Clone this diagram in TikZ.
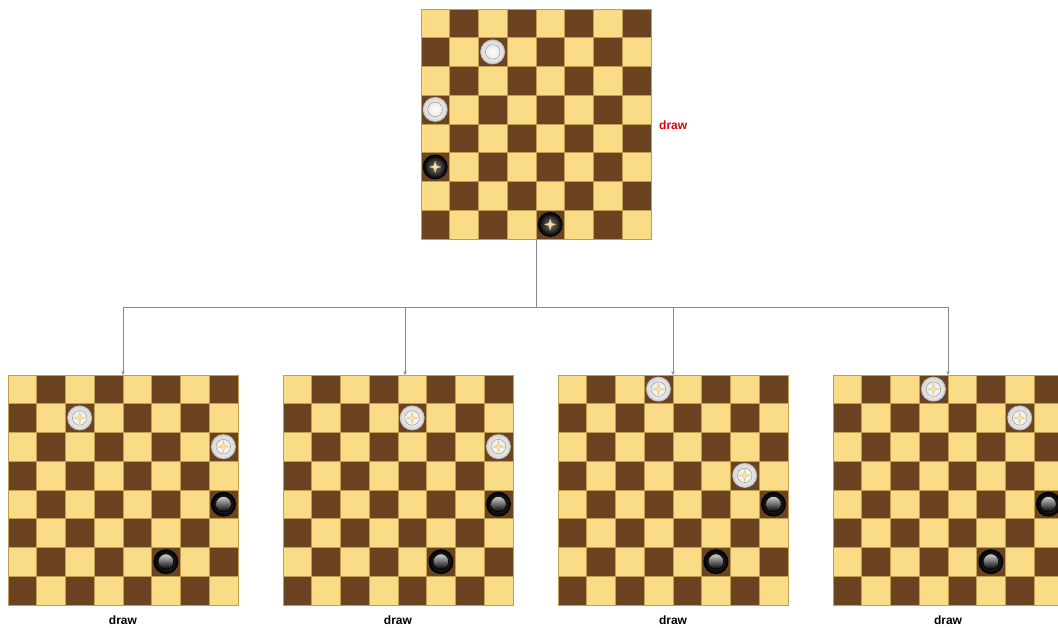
\documentclass[tikz,border=0pt]{standalone}
\usepackage{fontspec}
\setmainfont{Liberation Sans}
\usetikzlibrary{arrows.meta}
\definecolor{lightsq}{HTML}{FADB86}
\definecolor{darksq}{HTML}{6B4321}
\definecolor{sqline}{HTML}{C0A050}
\definecolor{conn}{HTML}{8A8A8A}
\definecolor{redlbl}{HTML}{E0000D}
\definecolor{starfill}{HTML}{F6E3A4}
\definecolor{starline}{HTML}{D9C27A}
\newcommand{\drawcells}[1]{%
  \begin{scope}[shift={(#1.north west)}]
    \foreach \r in {0,...,7}{\foreach \c in {0,...,7}{%
      \pgfmathtruncatemacro\sqpar{mod(\r+\c,2)}%
      \ifnum\sqpar=0
        \filldraw[fill=lightsq,draw=sqline,line width=0.4pt] (\c*28.75,\r*28.75) rectangle ++(28.75,28.75);
      \else
        \filldraw[fill=darksq,draw=sqline,line width=0.4pt] (\c*28.75,\r*28.75) rectangle ++(28.75,28.75);
      \fi}}
  \end{scope}}
% piece at (board, col, row)
\newcommand{\putpiece}[4]{%
  \pic at ([shift={(#3*28.75+14.375,#4*28.75+14.375)}]#2.north west) {#1};}
\tikzset{
  board/.style={rectangle,minimum size=230pt,inner sep=0pt,draw=sqline,line width=0.4pt},
  lbl/.style={font=\fontsize{12}{14}\selectfont\bfseries,inner sep=0pt},
  conn/.style={draw=conn,line width=0.8pt},
  arr/.style={conn,-{Stealth[length=3.5pt,width=3.5pt]}},
  star/.pic={\filldraw[fill=starfill,draw=starline,line width=0.4pt]
     (0,-5.5) -- (1.3,-1.3) -- (5.5,0) -- (1.3,1.3) -- (0,5.5) -- (-1.3,1.3) -- (-5.5,0) -- (-1.3,-1.3) -- cycle;},
  wman/.pic={
    \fill[gray!55] (0,0) circle (12.5);
    \shade[inner color=white,outer color=gray!30] (0,0) circle (11.6);
    \draw[gray!75,line width=0.7pt] (0,0) circle (7.2);
    \shade[inner color=white,outer color=gray!15] (0,0) circle (6.8);},
  wking/.pic={
    \fill[gray!55] (0,0) circle (12.5);
    \shade[inner color=white,outer color=gray!30] (0,0) circle (11.6);
    \draw[gray!75,line width=0.7pt] (0,0) circle (7.2);
    \shade[inner color=white,outer color=gray!15] (0,0) circle (6.8);
    \pic {star};},
  bman/.pic={
    \fill[black] (0,0) circle (12.5);
    \shade[inner color=black!70,outer color=black] (0,0) circle (11.8);
    \shade[top color=gray!35,bottom color=black] (0,0) circle (7.8);
    \draw[black,line width=0.6pt] (0,0) circle (7.8);},
  bking/.pic={
    \fill[black] (0,0) circle (12.5);
    \shade[inner color=black!55,outer color=black] (0,0) circle (11.8);
    \shade[inner color=black!55,outer color=black!85] (0,0) circle (8.5);
    \pic {star};},
}
\begin{document}
\begin{tikzpicture}[x=1pt,y=-1pt]
\useasboundingbox (0,0) rectangle (1058,628);
% boards
\node[board] (top) at (536,124) {};
\node[board] (b1) at (123,490) {};
\node[board] (b2) at (398,490) {};
\node[board] (b3) at (673,490) {};
\node[board] (b4) at (948,490) {};
\drawcells{top}
\drawcells{b1}
\drawcells{b2}
\drawcells{b3}
\drawcells{b4}
% top board pieces
\putpiece{wman}{top}{2}{1}
\putpiece{wman}{top}{0}{3}
\putpiece{bking}{top}{0}{5}
\putpiece{bking}{top}{4}{7}
% board 1
\putpiece{wking}{b1}{2}{1}
\putpiece{wking}{b1}{7}{2}
\putpiece{bman}{b1}{7}{4}
\putpiece{bman}{b1}{5}{6}
% board 2
\putpiece{wking}{b2}{4}{1}
\putpiece{wking}{b2}{7}{2}
\putpiece{bman}{b2}{7}{4}
\putpiece{bman}{b2}{5}{6}
% board 3
\putpiece{wking}{b3}{3}{0}
\putpiece{wking}{b3}{6}{3}
\putpiece{bman}{b3}{7}{4}
\putpiece{bman}{b3}{5}{6}
% board 4
\putpiece{wking}{b4}{3}{0}
\putpiece{wking}{b4}{6}{1}
\putpiece{bman}{b4}{7}{4}
\putpiece{bman}{b4}{5}{6}
% labels
\node[lbl,text=redlbl,anchor=west] (ltop) at (659,125) {draw};
\node[lbl] (l1) at (123,620) {draw};
\node[lbl] (l2) at (398,620) {draw};
\node[lbl] (l3) at (673,620) {draw};
\node[lbl] (l4) at (948,620) {draw};
% connectors
\coordinate (split) at (536,307);
\draw[conn] (top.south) -- (split);
\draw[arr] (split) -| (b1.north);
\draw[arr] (split) -| ([xshift=7pt]b2.north);
\draw[arr] (split) -| (b3.north);
\draw[arr] (split) -| (b4.north);
\end{tikzpicture}
\end{document}
